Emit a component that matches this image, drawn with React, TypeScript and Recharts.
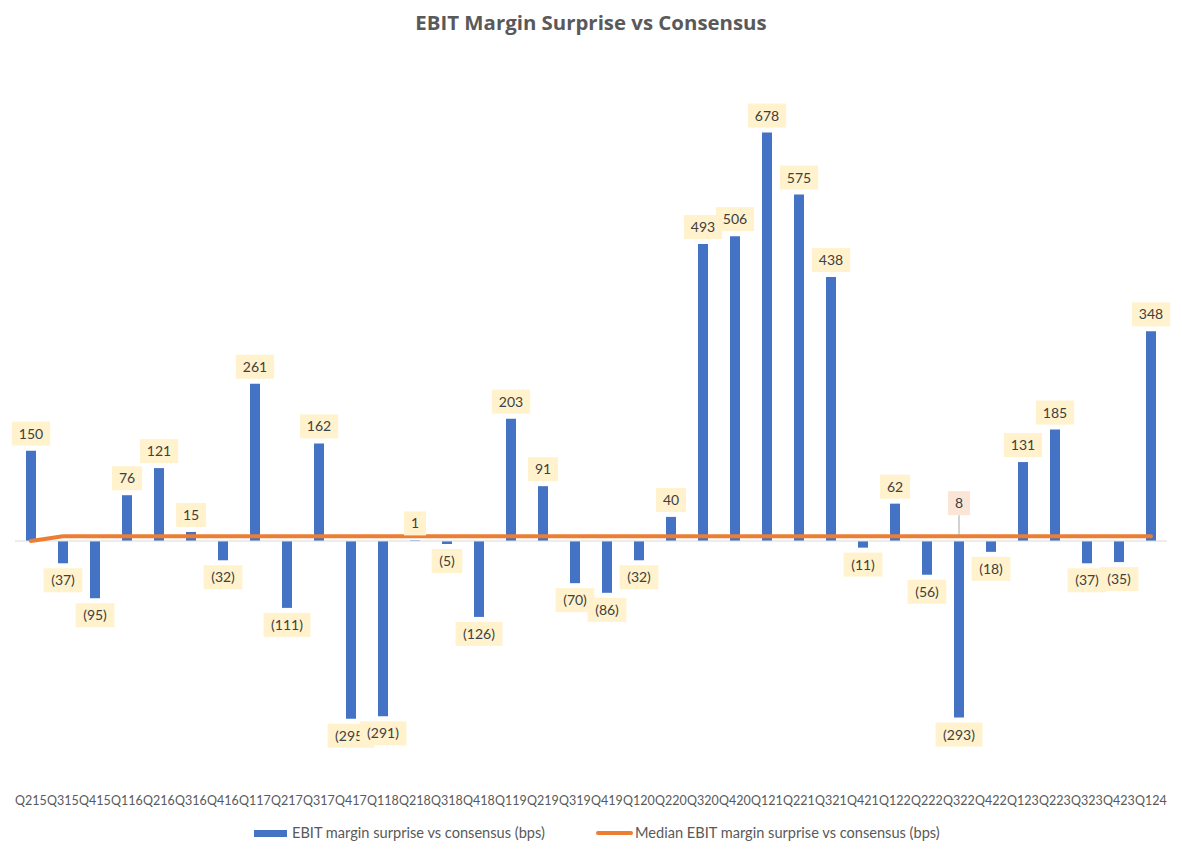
import React from 'react';
import { ComposedChart, Bar, Line, XAxis, YAxis, ReferenceLine, LabelList } from 'recharts';

const categories = ['Q215','Q315','Q415','Q116','Q216','Q316','Q416','Q117','Q217','Q317','Q417','Q118','Q218','Q318','Q418','Q119','Q219','Q319','Q419','Q120','Q220','Q320','Q420','Q121','Q221','Q321','Q421','Q122','Q222','Q322','Q422','Q123','Q223','Q323','Q423','Q124'];
const surprise = [150,-37,-95,76,121,15,-32,261,-111,162,-295,-291,1,-5,-126,203,91,-70,-86,-32,40,493,506,678,575,438,-11,62,-56,-293,-18,131,185,-37,-35,348];
const median = [0,8,8,8,8,8,8,8,8,8,8,8,8,8,8,8,8,8,8,8,8,8,8,8,8,8,8,8,8,8,8,8,8,8,8,8];
const medianLabelCategory = 'Q322';
const yTicks = [-400, -200, 0, 200, 400, 600, 800];

const data = categories.map((c, i) => ({ cat: c, surprise: surprise[i], median: median[i] }));

const FONT = 'Lato, "Open Sans", sans-serif';
const BLUE = '#4472C4';
const ORANGE = '#ED7D31';
const TEXT = '#595959';

const fmt = (v: number) => (v < 0 ? `(${Math.abs(v)})` : `${v}`);
const textWidth = (s: string) => {
  let w = 0;
  for (const ch of s) w += ch === '(' || ch === ')' ? 4.3 : 8.1;
  return w;
};

const BarLabel = (props: any) => {
  const { x, y, width, height, value } = props;
  if (value === undefined || value === null) return null;
  const v = Number(value);
  const top = Math.min(y, y + height);
  const bottom = Math.max(y, y + height);
  const cx = x + width / 2;
  const s = fmt(v);
  const bw = textWidth(s) + 14;
  const bh = 24;
  const by = v >= 0 ? top - 5 - bh : bottom + 5;
  return (
    <g>
      <rect x={cx - bw / 2} y={by} width={bw} height={bh} fill="#FFF2CC" />
      <text x={cx} y={by + bh / 2} dy="0.36em" textAnchor="middle" fontSize={14} fontFamily={FONT} fill="#404040">
        {s}
      </text>
    </g>
  );
};

const MedianLabel = (props: any) => {
  const { x, y, value, index } = props;
  if (categories[index] !== medianLabelCategory) return null;
  const s = fmt(Number(value));
  const bw = textWidth(s) + 14;
  const bh = 24;
  const by = y - 45;
  return (
    <g>
      <line x1={x} y1={by + bh} x2={x} y2={y - 1} stroke="#A6A6A6" strokeWidth={1} />
      <rect x={x - bw / 2} y={by} width={bw} height={bh} fill="#FBE5D6" />
      <text x={x} y={by + bh / 2} dy="0.36em" textAnchor="middle" fontSize={14} fontFamily={FONT} fill="#404040">
        {s}
      </text>
    </g>
  );
};

export default function App() {
  return (
    <div style={{ position: 'absolute', left: 0, top: 0, width: 1182, height: 852, background: '#fff', fontFamily: FONT }}>
      <div style={{ position: 'absolute', left: 0, top: 7, width: 1182, textAlign: 'center', fontFamily: '"Open Sans", sans-serif', fontWeight: 700, fontSize: 20.4, lineHeight: '30px', color: TEXT }}>
        EBIT Margin Surprise vs Consensus
      </div>
      <ComposedChart width={1182} height={852} data={data} margin={{ top: 59, right: 15, left: 15, bottom: 40 }}>
        <XAxis dataKey="cat" interval={0} axisLine={false} tickLine={false} height={30} tickMargin={8}
          tick={{ fill: TEXT, fontSize: 12.5, fontFamily: FONT }} />
        <YAxis hide domain={[-400, 800]} ticks={yTicks} />
        <ReferenceLine y={0} stroke="#D9D9D9" strokeWidth={1} />
        <Bar dataKey="surprise" fill={BLUE} barSize={10} isAnimationActive={false}>
          <LabelList dataKey="surprise" content={BarLabel} />
        </Bar>
        <Line dataKey="median" stroke={ORANGE} strokeWidth={4} dot={false} type="linear" strokeLinecap="round" isAnimationActive={false}>
          <LabelList dataKey="median" content={MedianLabel} />
        </Line>
      </ComposedChart>
      <div style={{ position: 'absolute', left: 0, top: 823, width: 1182, height: 20, fontSize: 14.6, color: TEXT, fontFamily: FONT }}>
        <div style={{ position: 'absolute', left: 254, top: 7, width: 33, height: 7, background: BLUE }} />
        <div style={{ position: 'absolute', left: 292, top: 0, lineHeight: '20px', whiteSpace: 'nowrap' }}>EBIT margin surprise vs consensus (bps)</div>
        <div style={{ position: 'absolute', left: 596, top: 8, width: 37, height: 4, background: ORANGE, borderRadius: 2 }} />
        <div style={{ position: 'absolute', left: 635, top: 0, lineHeight: '20px', whiteSpace: 'nowrap' }}>Median EBIT margin surprise vs consensus (bps)</div>
      </div>
    </div>
  );
}
